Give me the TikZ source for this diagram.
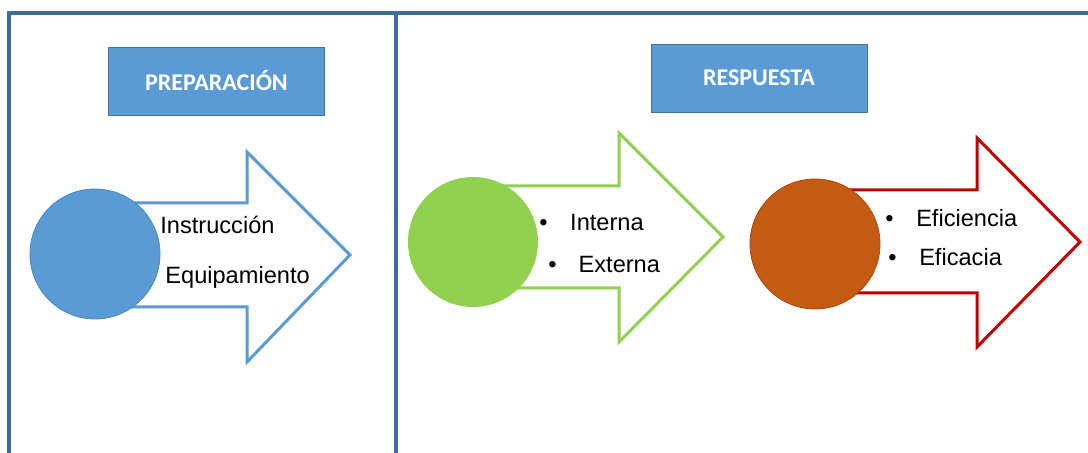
\documentclass[tikz,border=0pt]{standalone}
\usepackage{fontspec}
\setmainfont{Liberation Sans}
\newfontfamily\headfont{Carlito}
\usepackage{tikz}
\usetikzlibrary{positioning}
\definecolor{framecol}{HTML}{3F6D9B}
\definecolor{boxblue}{HTML}{5B9BD5}
\definecolor{boxedge}{HTML}{41719C}
\definecolor{prepblue}{HTML}{5B9BD5}
\definecolor{prepedge}{HTML}{4A86C0}
\definecolor{respgreen}{HTML}{92D050}
\definecolor{resporange}{HTML}{C55A11}
\definecolor{orangeedge}{HTML}{A9470F}
\definecolor{respred}{HTML}{C00000}
\tikzset{
  title/.style={draw=boxedge, fill=boxblue, minimum width=108pt, minimum height=34pt,
    inner sep=0pt, text=white, font=\headfont\bfseries\fontsize{12}{14}\selectfont},
  ball/.style={circle, minimum size=65pt, inner sep=0pt},
  item/.style={anchor=base west, inner sep=0pt, font=\fontsize{11.8}{14}\selectfont},
  bigarrow/.style={line width=1.5pt, fill=white},
}

\begin{document}
\begin{tikzpicture}[x=0.5pt,y=-0.5pt]
  \useasboundingbox (0,0) rectangle (1088,453);
  \fill[white] (0,0) rectangle (1088,453);
  % frame
  \draw[framecol, line width=2pt] (9,453) -- (9,13) -- (1088,13);
  \draw[framecol, line width=2pt] (396,13) -- (396,453);
  % headings
  \node[title] (prep) at (216.5,81) {PREPARACIÓN};
  \node[title] (resp) at (759,78) {RESPUESTA};
  % arrows
  \draw[bigarrow, draw=prepblue] (95,203) -- (247,203) -- (247,152) -- (350,255)
    -- (247,362) -- (247,307) -- (95,307) -- cycle;
  \draw[bigarrow, draw=respgreen] (473,186) -- (619,186) -- (619,133) -- (723,237)
    -- (619,342) -- (619,288) -- (473,288) -- cycle;
  \draw[bigarrow, draw=respred] (815,190) -- (977,190) -- (977,138) -- (1080,242)
    -- (977,347) -- (977,293) -- (815,293) -- cycle;
  % circles
  \node[ball, fill=prepblue, draw=prepedge, thin] (blue) at (95,254) {};
  \node[ball, fill=respgreen] (green) at (473,242) {};
  \node[ball, fill=resporange, draw=orangeedge, thin] (orange) at (815,244) {};
  % texts
  \node[item] (instr) at (160,234) {Instrucción};
  \node[item] (equip) at (165,284) {Equipamiento};
  \node[item] (inter) at (539,231) {•\hspace{11.3pt}Interna};
  \node[item] (exter) at (548,273) {•\hspace{11pt}Externa};
  \node[item] (efici) at (885,227) {•\hspace{11.3pt}Eficiencia};
  \node[item] (efica) at (888,266) {•\hspace{11.3pt}Eficacia};
\end{tikzpicture}
\end{document}
